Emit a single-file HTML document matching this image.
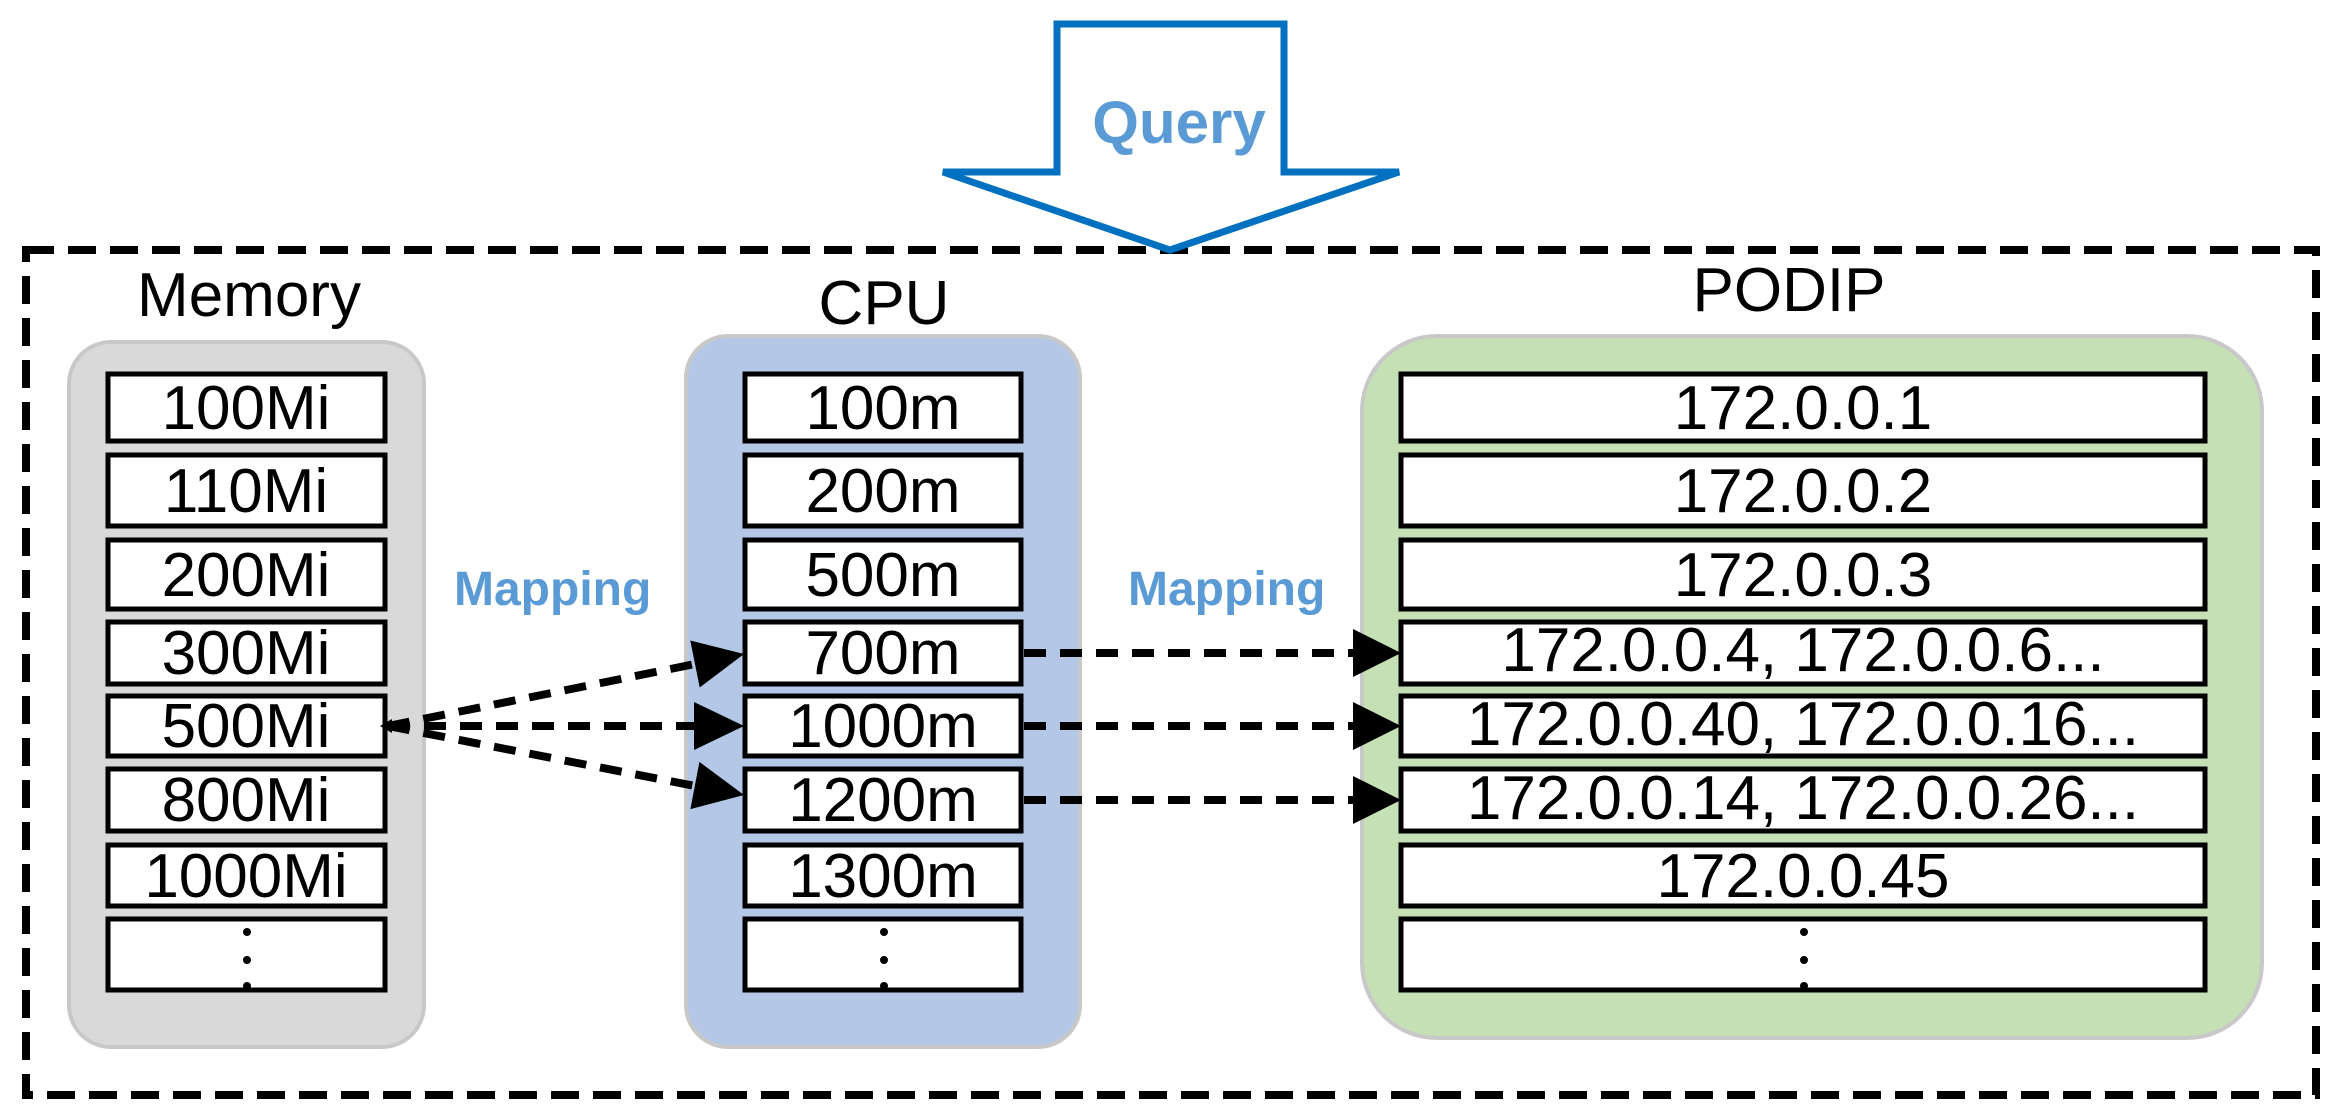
<!DOCTYPE html>
<html><head><meta charset="utf-8"><style>html,body{margin:0;padding:0;background:#fff}svg{display:block}</style></head>
<body>
<svg width="2339" height="1117" viewBox="0 0 2339 1117" xmlns="http://www.w3.org/2000/svg" font-family="'Liberation Sans', sans-serif">
<rect width="2339" height="1117" fill="#fff"/>
<!-- outer dashed border -->
<rect x="26" y="250" width="2290" height="845" fill="none" stroke="#000" stroke-width="8" stroke-dasharray="28 14"/>
<!-- query arrow -->
<polygon points="1057,24 1284,24 1284,172 1399,172 1170,250 943,172 1057,172" fill="#fff" stroke="#0070C0" stroke-width="7" stroke-linejoin="miter"/>
<text x="1179" y="143" font-size="60" font-weight="bold" fill="#5B9BD5" text-anchor="middle">Query</text>
<!-- titles -->
<text x="249" y="316" font-size="62" text-anchor="middle">Memory</text>
<text x="884" y="324" font-size="62" text-anchor="middle">CPU</text>
<text x="1789" y="311" font-size="62" text-anchor="middle">PODIP</text>
<!-- containers -->
<rect x="69" y="342" width="355" height="705" rx="42" fill="#D9D9D9" stroke="#C8C8C8" stroke-width="4"/>
<rect x="686" y="336" width="394" height="711" rx="42" fill="#B4C7E7" stroke="#C8C8C8" stroke-width="4"/>
<rect x="1362" y="336" width="900" height="702" rx="75" fill="#C5E0B4" stroke="#C8C8C8" stroke-width="4"/>
<g fill="#fff" stroke="#000" stroke-width="5">
<rect x="108" y="374" width="277" height="67"/><rect x="108" y="455" width="277" height="71"/><rect x="108" y="540" width="277" height="69"/><rect x="108" y="622" width="277" height="62"/><rect x="108" y="696" width="277" height="60"/><rect x="108" y="769" width="277" height="62"/><rect x="108" y="845" width="277" height="61"/><rect x="108" y="919" width="277" height="71"/>
<rect x="745" y="374" width="276" height="67"/><rect x="745" y="455" width="276" height="71"/><rect x="745" y="540" width="276" height="69"/><rect x="745" y="622" width="276" height="62"/><rect x="745" y="696" width="276" height="60"/><rect x="745" y="769" width="276" height="62"/><rect x="745" y="845" width="276" height="61"/><rect x="745" y="919" width="276" height="71"/>
<rect x="1401" y="374" width="804" height="67"/><rect x="1401" y="455" width="804" height="71"/><rect x="1401" y="540" width="804" height="69"/><rect x="1401" y="622" width="804" height="62"/><rect x="1401" y="696" width="804" height="60"/><rect x="1401" y="769" width="804" height="62"/><rect x="1401" y="845" width="804" height="61"/><rect x="1401" y="919" width="804" height="71"/>
</g>
<g font-size="62" text-anchor="middle">
<text x="246" y="429">100Mi</text><text x="246" y="512">110Mi</text><text x="246" y="596">200Mi</text><text x="246" y="674">300Mi</text><text x="246" y="747">500Mi</text><text x="246" y="821">800Mi</text><text x="246" y="897">1000Mi</text>
<text x="883" y="429">100m</text><text x="883" y="512">200m</text><text x="883" y="596">500m</text><text x="883" y="674">700m</text><text x="883" y="747">1000m</text><text x="883" y="821">1200m</text><text x="883" y="897">1300m</text>
<text x="1803" y="429">172.0.0.1</text><text x="1803" y="512">172.0.0.2</text><text x="1803" y="596">172.0.0.3</text><text x="1803" y="671">172.0.0.4, 172.0.0.6...</text><text x="1803" y="745">172.0.0.40, 172.0.0.16...</text><text x="1803" y="819">172.0.0.14, 172.0.0.26...</text><text x="1803" y="897">172.0.0.45</text>
</g>
<g fill="#000">
<circle cx="247" cy="932" r="4"/><circle cx="247" cy="960" r="4"/><circle cx="247" cy="986" r="4"/>
<circle cx="884" cy="932" r="4"/><circle cx="884" cy="960" r="4"/><circle cx="884" cy="986" r="4"/>
<circle cx="1804" cy="932" r="4"/><circle cx="1804" cy="960" r="4"/><circle cx="1804" cy="986" r="4"/>
</g>
<!-- mapping labels -->
<text x="454" y="605" font-size="48" font-weight="bold" fill="#5B9BD5">Mapping</text>
<text x="1128" y="605" font-size="48" font-weight="bold" fill="#5B9BD5">Mapping</text>
<!-- connectors -->
<g stroke="#000" stroke-width="8" stroke-dasharray="22 14" fill="none">
<line x1="388" y1="726" x2="695" y2="664"/>
<line x1="388" y1="726" x2="694" y2="726"/>
<line x1="388" y1="726" x2="695" y2="786"/>
<line x1="1024" y1="653" x2="1353" y2="653"/>
<line x1="1024" y1="726" x2="1353" y2="726"/>
<line x1="1024" y1="800" x2="1353" y2="800"/>
</g>
<g fill="#000">
<polygon points="744,654 699.7,687.5 690.3,640.5"/>
<polygon points="744,726 694,750 694,702"/>
<polygon points="744,795 690.4,809.1 699.4,761.9"/>
<polygon points="1401,653 1353,677 1353,629"/>
<polygon points="1401,726 1353,750 1353,702"/>
<polygon points="1401,800 1353,824 1353,776"/>
<polygon points="380,726 392,719 392,733"/>
</g>
</svg>
</body></html>
